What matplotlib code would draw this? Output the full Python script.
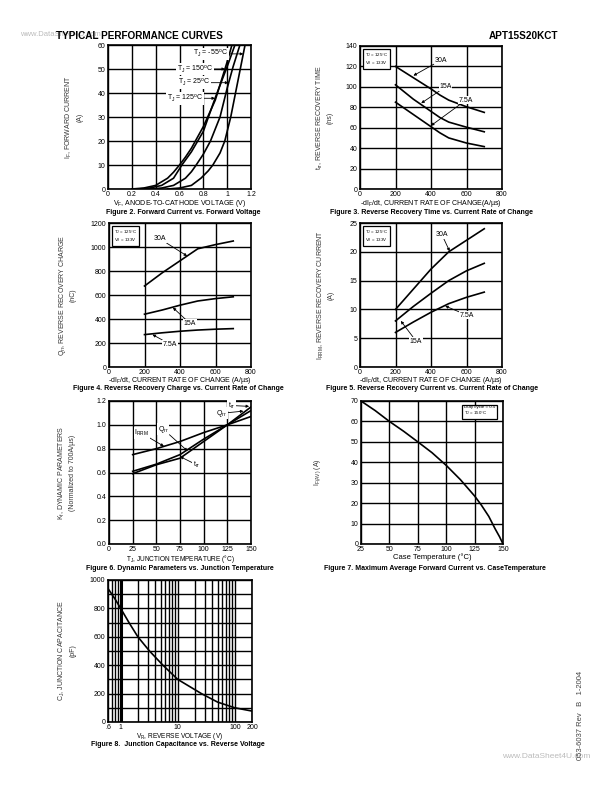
import matplotlib
matplotlib.use("Agg")
import matplotlib.pyplot as plt

plt.rcParams['font.family'] = ['Liberation Sans', 'DejaVu Sans']
plt.rcParams['mathtext.fontset'] = 'custom'
plt.rcParams['mathtext.rm'] = 'Liberation Sans'
plt.rcParams['mathtext.it'] = 'Liberation Sans:italic'
plt.rcParams['mathtext.bf'] = 'Liberation Sans:bold'

# ---- Figure 2: forward current vs forward voltage
vf_150 = [0.20, 0.30, 0.40, 0.50, 0.55, 0.60, 0.65, 0.70, 0.80, 0.90, 1.00, 1.04]
if_150 = [0, 0.4, 1.5, 4.5, 7, 10, 13.3, 17, 26, 37, 53, 60]
vf_125 = [0.25, 0.35, 0.45, 0.55, 0.62, 0.70, 0.80, 0.90, 1.00, 1.065]
if_125 = [0, 0.4, 1.5, 4.5, 10, 15.5, 24, 38, 51, 60]
vf_25 = [0.35, 0.45, 0.55, 0.65, 0.70, 0.74, 0.80, 0.86, 0.94, 1.00, 1.05, 1.107]
if_25 = [0, 0.4, 1.5, 4.5, 7.2, 10, 14.5, 20, 30, 42, 51, 60]
vf_m55 = [0.50, 0.60, 0.70, 0.78, 0.84, 0.88, 0.94, 0.98, 1.03, 1.07, 1.11, 1.15]
if_m55 = [0, 0.4, 1.5, 4.5, 7.5, 10, 15, 20, 30, 40, 50, 60]

# ---- Figures 3-5: vs -dIF/dt
didt = [200, 300, 400, 450, 500, 600, 700]
trr_30 = [120, 109, 98, 92, 87, 80.5, 75]
trr_15 = [102, 88, 76, 70, 65.5, 60.5, 56]
trr_7 = [85, 73, 61, 55, 50, 45, 41.5]

didt_q = [200, 300, 400, 500, 600, 700]
qrr_30 = [675, 785, 885, 985, 1020, 1050]
qrr_15 = [440, 475, 515, 550, 570, 585]
qrr_7 = [270, 285, 298, 308, 315, 320]

irrm_30 = [10, 13.5, 17, 20, 22, 24]
irrm_15 = [8, 10.5, 12.8, 15, 16.7, 18]
irrm_7 = [6, 7.8, 9.5, 11, 12.1, 13]

# ---- Figure 6: dynamic parameters vs Tj
tj = [25, 50, 75, 100, 125, 150]
kf_irrm = [0.75, 0.80, 0.86, 0.935, 1.0, 1.07]
kf_qrr = [0.61, 0.67, 0.75, 0.88, 1.0, 1.12]
kf_trr = [0.59, 0.665, 0.72, 0.86, 1.0, 1.15]

# ---- Figure 7: max average forward current vs case temp
tc = [25, 37.5, 50, 62.5, 75, 87.5, 100, 112.5, 125, 131, 137.5, 143, 147, 150]
ifav = [70, 65.3, 60, 55.2, 50, 44.7, 38.5, 31.5, 23.5, 19, 13.5, 7.5, 3.5, 0]

# ---- Figure 8: junction capacitance vs reverse voltage
vr = [0.6, 0.8, 1, 1.4, 2, 3.2, 5.5, 10, 26, 50, 100, 200]
cj = [940, 865, 800, 700, 600, 500, 400, 300, 200, 140, 100, 77]

fig = plt.figure(figsize=(6.12, 7.92), dpi=100)


def make_axes(left, top, right, bottom):
    ax = fig.add_axes([left / 612, 1 - bottom / 792, (right - left) / 612, (bottom - top) / 792])
    ax.grid(True, which='both', color='black', lw=1.0)
    ax.set_axisbelow(True)
    for s in ax.spines.values():
        s.set_linewidth(1.2)
    ax.tick_params(which='both', length=0, labelsize=5, pad=2)
    ax.tick_params(axis='x', pad=1.5)
    return ax


def ftext(x, y, s, **kw):
    fig.text(x / 612, 1 - y / 792, s, **kw)


def lab(ax, s, xy, xytext, fs=5):
    ax.annotate(s, xy=xy, xytext=xytext, fontsize=fs, ha='center', va='center',
                bbox=dict(boxstyle='square,pad=0.1', fc='white', ec='none'),
                arrowprops=dict(arrowstyle='-|>', lw=0.6, color='black',
                                mutation_scale=4, shrinkA=0, shrinkB=0))


def cond_box(ax, s, x, y, ha='left'):
    ax.text(x, y, s, transform=ax.transAxes, fontsize=3.2, ha=ha, va='top', linespacing=1.25,
            bbox=dict(boxstyle='square,pad=0.35', fc='white', ec='black', lw=0.9))


lw = 1.2


def xlabel(ax, s, y=-0.062, fs=5):
    ax.set_xlabel(s, fontsize=fs)
    ax.xaxis.set_label_coords(0.5, y)


def ylabel(ax, s, x, fs=5):
    ax.set_ylabel(s, fontsize=fs, color='#333333', linespacing=1.5)
    ax.yaxis.set_label_coords(x, 0.5)


# Figure 2
ax = make_axes(108, 45, 251, 189)
for v, i in [(vf_150, if_150), (vf_125, if_125), (vf_25, if_25), (vf_m55, if_m55)]:
    ax.plot(v, i, color='black', lw=lw)
ax.set_xlim(0, 1.2)
ax.set_ylim(0, 60)
ax.set_xticks([0, 0.2, 0.4, 0.6, 0.8, 1.0, 1.2])
ax.set_xticklabels(['0', '0.2', '0.4', '0.6', '0.8', '1', '1.2'])
ax.set_yticks(range(0, 61, 10))
lab(ax, r'T$_\mathregular{J}$ = -55$^\mathregular{o}$C', (1.135, 56.3), (0.86, 56.3))
lab(ax, r'T$_\mathregular{J}$ = 150$^\mathregular{o}$C', (0.982, 50), (0.73, 50))
lab(ax, r'T$_\mathregular{J}$ = 25$^\mathregular{o}$C', (1.01, 44.3), (0.72, 44.3))
lab(ax, r'T$_\mathregular{J}$ = 125$^\mathregular{o}$C', (0.898, 37.8), (0.646, 37.8))
ylabel(ax, 'I$_\\mathregular{F}$, FORWARD CURRENT\n(A)', -0.17)
xlabel(ax, 'V$_\\mathregular{F}$, ANODE-TO-CATHODE VOLTAGE (V)')

# Figure 3
ax = make_axes(360, 46, 502, 189)
for y in [trr_30, trr_15, trr_7]:
    ax.plot(didt, y, color='black', lw=lw)
ax.set_xlim(0, 800)
ax.set_ylim(0, 140)
ax.set_xticks(range(0, 801, 200))
ax.set_yticks(range(0, 141, 20))
lab(ax, '30A', (301, 111), (455, 126))
lab(ax, '15A', (345, 84), (482, 100))
lab(ax, '7.5A', (400, 62), (597, 87))
cond_box(ax, 'T$_\\mathregular{J}$ = 125°C\nV$_\\mathregular{R}$ = 133V', 0.035, 0.965)
ylabel(ax, 't$_\\mathregular{rr}$, REVERSE RECOVERY TIME\n(ns)', -0.183)
xlabel(ax, '-dI$_\\mathregular{F}$/dt, CURRENT RATE OF CHANGE(A/µs)')

# Figure 4
ax = make_axes(109, 223, 251, 367)
for y in [qrr_30, qrr_15, qrr_7]:
    ax.plot(didt_q, y, color='black', lw=lw)
ax.set_xlim(0, 800)
ax.set_ylim(0, 1200)
ax.set_xticks(range(0, 801, 200))
ax.set_yticks(range(0, 1201, 200))
lab(ax, '30A', (440, 925), (287, 1068))
lab(ax, '15A', (360, 495), (456, 363))
lab(ax, '7.5A', (245, 270), (344, 190))
cond_box(ax, 'T$_\\mathregular{J}$ = 125°C\nV$_\\mathregular{R}$ = 133V', 0.035, 0.965)
ylabel(ax, 'Q$_\\mathregular{rr}$, REVERSE RECOVERY CHARGE\n(nC)', -0.225)
xlabel(ax, '-dI$_\\mathregular{F}$/dt, CURRENT RATE OF CHANGE (A/µs)', y=-0.055)

# Figure 5
ax = make_axes(360, 223, 502, 367)
for y in [irrm_30, irrm_15, irrm_7]:
    ax.plot(didt_q, y, color='black', lw=lw)
ax.set_xlim(0, 800)
ax.set_ylim(0, 25)
ax.set_xticks(range(0, 801, 200))
ax.set_yticks(range(0, 26, 5))
lab(ax, '30A', (505, 20.1), (461, 23))
lab(ax, '7.5A', (480, 10.6), (602, 9))
lab(ax, '15A', (230, 8.0), (316, 4.5))
cond_box(ax, 'T$_\\mathregular{J}$ = 125°C\nV$_\\mathregular{R}$ = 133V', 0.035, 0.965)
ylabel(ax, 'I$_\\mathregular{RRM}$, REVERSE RECOVERY CURRENT\n(A)', -0.176)
xlabel(ax, '-dI$_\\mathregular{F}$/dt, CURRENT RATE OF CHANGE (A/µs)', y=-0.055)

# Figure 6
ax = make_axes(109, 401, 251, 544)
for y in [kf_irrm, kf_qrr, kf_trr]:
    ax.plot(tj, y, color='black', lw=lw)
ax.set_xlim(0, 150)
ax.set_ylim(0, 1.2)
ax.set_xticks(range(0, 151, 25))
ax.set_yticks([0, 0.2, 0.4, 0.6, 0.8, 1.0, 1.2])
ax.set_yticklabels(['0.0', '0.2', '0.4', '0.6', '0.8', '1.0', '1.2'])
lab(ax, 'I$_\\mathregular{RRM}$', (58, 0.82), (34.5, 0.93))
lab(ax, 'Q$_\\mathregular{rr}$', (83, 0.78), (57.4, 0.963))
lab(ax, 't$_\\mathregular{rr}$', (75, 0.734), (92.6, 0.664))
lab(ax, 't$_\\mathregular{rr}$', (148, 1.155), (129.6, 1.162))
lab(ax, 'Q$_\\mathregular{rr}$', (142, 1.115), (119, 1.097))
ylabel(ax, 'K$_\\mathregular{f}$, DYNAMIC PARAMETERS\n(Normalized to 700A/µs)', -0.232)
xlabel(ax, 'T$_\\mathregular{J}$, JUNCTION TEMPERATURE (°C)', y=-0.06, fs=4.7)

# Figure 7
ax = make_axes(361, 401, 503, 544)
ax.plot(tc, ifav, color='black', lw=lw)
ax.set_xlim(25, 150)
ax.set_ylim(0, 70)
ax.set_xticks(range(25, 151, 25))
ax.set_yticks(range(0, 71, 10))
cond_box(ax, 'Duty cycle = 0.5\nT$_\\mathregular{J}$ = 150°C', 0.725, 0.975)
ylabel(ax, 'I$_\\mathregular{F(AV)}$ (A)', -0.268)
xlabel(ax, 'Case Temperature (°C)', y=-0.065, fs=5.5)

# Figure 8
ax = make_axes(108, 580, 252, 722)
ax.plot(vr, cj, color='black', lw=lw)
ax.set_xscale('log')
ax.set_xlim(0.6, 200)
ax.set_ylim(0, 1000)
ax.set_xticks([0.6, 1, 10, 100, 200])
ax.set_xticklabels(['.6', '1', '10', '100', '200'])
ax.set_xticks([0.7, 0.8, 0.9, 2, 3, 4, 5, 6, 7, 8, 9,
               20, 30, 40, 50, 60, 70, 80, 90], minor=True)
ax.set_xticklabels([], minor=True)
ax.set_yticks(range(0, 1001, 200))
ax.set_yticks(range(100, 1000, 200), minor=True)
ax.axvline(1, color='black', lw=2.2, zorder=0.5)
ylabel(ax, 'C$_\\mathregular{J}$, JUNCTION CAPACITANCE\n(pF)', -0.218)
xlabel(ax, 'V$_\\mathregular{R}$, REVERSE VOLTAGE (V)', y=-0.06, fs=4.7)

# page text
ftext(20, 34, 'www.DataSheet4U.com', fontsize=5.5, color='#bbbbbb', va='center')
ftext(56, 36, 'TYPICAL PERFORMANCE CURVES', fontsize=7.2, fontweight='bold', va='center')
ftext(558, 36, 'APT15S20KCT', fontsize=7.2, fontweight='bold', va='center', ha='right')
ftext(590, 757, 'www.DataSheet4U.com', fontsize=6, color='#bbbbbb', va='center', ha='right')
ftext(581, 715, '053-6037 Rev   B   1-2004', fontsize=5.5, color='#444444', rotation=90,
      va='center', ha='center')

cap = dict(fontsize=5, fontweight='bold', ha='center', va='center')
ftext(183, 212, 'Figure 2. Forward Current vs. Forward Voltage', **cap)
ftext(432, 212, 'Figure 3. Reverse Recovery Time vs. Current Rate of Change', **cap)
ftext(178, 389, 'Figure 4. Reverse Recovery Charge vs. Current Rate of Change', **cap)
ftext(432, 389, 'Figure 5. Reverse Recovery Current vs. Current Rate of Change', **cap)
ftext(180, 568, 'Figure 6. Dynamic Parameters vs. Junction Temperature', **cap)
ftext(435, 568, 'Figure 7. Maximum Average Forward Current vs. CaseTemperature', **cap)
ftext(178, 745, 'Figure 8.  Junction Capacitance vs. Reverse Voltage', **cap)

fig.savefig('out.png', dpi=100)
